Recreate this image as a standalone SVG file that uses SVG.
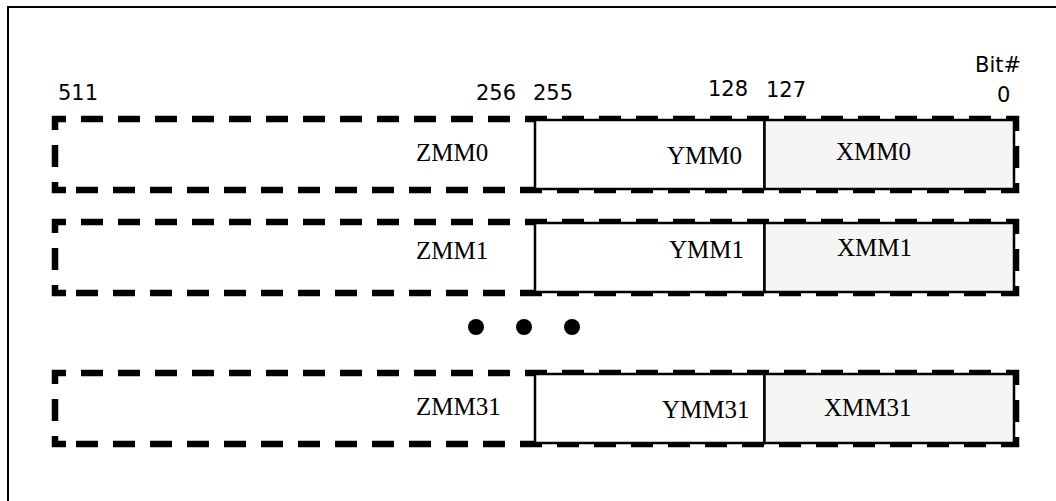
<svg xmlns="http://www.w3.org/2000/svg" width="1056" height="501" viewBox="0 0 1056 501">
<style>
.frame{fill:none;stroke:#000;stroke-width:2}
.dash{fill:none;stroke:#000;stroke-width:6.5;stroke-dasharray:22 15;stroke-dashoffset:22}
.brk{fill:none;stroke:#000;stroke-width:6.5;stroke-dasharray:19 15 22 15 22 0}
.ymm{fill:#fff;stroke:#000;stroke-width:2.5}
.xmm{fill:#f5f5f5;stroke:#000;stroke-width:2.5}
.reg{font-family:"Liberation Serif","Times New Roman",serif;font-size:25px;fill:#000}
.bit{font-family:"DejaVu Sans",Verdana,sans-serif;font-size:21px;fill:#000}
</style>
<rect width="1056" height="501" fill="#fff"/>
<path class="frame" d="M8,510 V7 H1070"/>
<g id="bit-labels">
<text class="bit" x="58" y="100">511</text>
<text class="bit" x="476" y="100">256</text>
<text class="bit" x="533" y="100">255</text>
<text class="bit" x="708" y="96">128</text>
<text class="bit" x="766" y="97">127</text>
<text class="bit" x="975" y="72">Bit#</text>
<text class="bit" x="997" y="102">0</text>
</g>
<g id="row0">
<g id="zmm0"><path class="brk" d="M66,190 H55 V119 H66"/><path class="dash" d="M66,119 H1016 V190 H66"/><text class="reg" x="416" y="161">ZMM0</text></g>
<g id="ymm0"><rect class="ymm" x="535" y="120" width="229.5" height="69"/><text class="reg" x="667" y="164">YMM0</text></g>
<g id="xmm0"><rect class="xmm" x="764.5" y="120" width="249.5" height="69"/><text class="reg" x="836" y="160">XMM0</text></g>
</g>
<g id="row1">
<g id="zmm1"><path class="brk" d="M66,293 H55 V222 H66"/><path class="dash" d="M66,222 H1016 V293 H66"/><text class="reg" x="416" y="259">ZMM1</text></g>
<g id="ymm1"><rect class="ymm" x="535" y="223" width="229.5" height="69"/><text class="reg" x="669" y="258">YMM1</text></g>
<g id="xmm1"><rect class="xmm" x="764.5" y="223" width="249.5" height="69"/><text class="reg" x="837" y="256">XMM1</text></g>
</g>
<g id="ellipsis">
<circle cx="476" cy="327" r="8"/>
<circle cx="524" cy="327" r="8"/>
<circle cx="572" cy="327" r="8"/>
</g>
<g id="row31">
<g id="zmm31"><path class="brk" d="M66,444 H55 V373 H66"/><path class="dash" d="M66,373 H1016 V444 H66"/><text class="reg" x="416" y="415">ZMM31</text></g>
<g id="ymm31"><rect class="ymm" x="535" y="374" width="229.5" height="69"/><text class="reg" x="662" y="418">YMM31</text></g>
<g id="xmm31"><rect class="xmm" x="764.5" y="374" width="249.5" height="69"/><text class="reg" x="824" y="416">XMM31</text></g>
</g>
<g id="connectors"></g>
</svg>
